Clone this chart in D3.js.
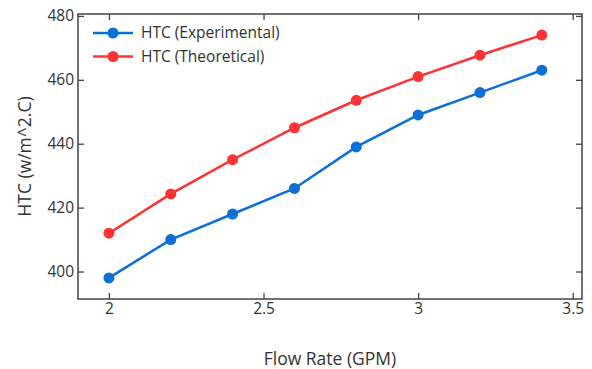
<!DOCTYPE html>
<html lang="en">
  <head>
    <meta charset="UTF-8" />
    <title>HTC vs Flow Rate</title>
    <style>
      body {
        margin: 0;
        padding: 0;
        background: #fff;
        font-family: "Open Sans", sans-serif;
      }
      text {
        fill: #333;
      }
    </style>
  </head>
  <body>
    <svg id="chart"></svg>
    <script src="https://cdnjs.cloudflare.com/ajax/libs/d3/7.8.5/d3.min.js"></script>
    <script>
      const flowRate = [2, 2.2, 2.4, 2.6, 2.8, 3, 3.2, 3.4];
      const htcExperimental = [398, 410, 418, 426, 439, 449, 456, 463];
      const htcTheoretical = [412, 424.3, 435, 445, 453.6, 461, 467.7, 474];
      const xTicks = [2, 2.5, 3, 3.5];
      const yTicks = [400, 420, 440, 460, 480];
      const seriesNames = ["HTC (Experimental)", "HTC (Theoretical)"];

      const width = 592;
      const height = 369;
      const margin = { top: 14, right: 10, bottom: 70, left: 78 };

      const svg = d3.select("#chart").attr("width", width).attr("height", height);

      const x = d3
        .scaleLinear()
        .domain([1.9, 3.53])
        .range([margin.left, width - margin.right]);

      const y = d3
        .scaleLinear()
        .domain([391.4, 480.6])
        .range([height - margin.bottom, margin.top]);

      const tickLen = 6;

      // bottom + top axes (ticks pointing inward)
      svg
        .append("g")
        .attr("transform", `translate(0,${height - margin.bottom})`)
        .call(d3.axisBottom(x).tickValues(xTicks).tickSizeInner(-tickLen).tickSizeOuter(0).tickPadding(4).tickFormat(d3.format("")))
        .call((g) => g.select(".domain").remove());
      svg
        .append("g")
        .attr("transform", `translate(0,${margin.top})`)
        .call(d3.axisTop(x).tickValues(xTicks).tickSizeInner(-tickLen).tickSizeOuter(0).tickFormat(""))
        .call((g) => g.select(".domain").remove());

      // left + right axes
      svg
        .append("g")
        .attr("transform", `translate(${margin.left},0)`)
        .call(d3.axisLeft(y).tickValues(yTicks).tickSizeInner(-tickLen).tickSizeOuter(0).tickPadding(4))
        .call((g) => g.select(".domain").remove());
      svg
        .append("g")
        .attr("transform", `translate(${width - margin.right},0)`)
        .call(d3.axisRight(y).tickValues(yTicks).tickSizeInner(-tickLen).tickSizeOuter(0).tickFormat(""))
        .call((g) => g.select(".domain").remove());

      svg.selectAll(".tick line").attr("stroke", "#444").attr("stroke-width", 1.3);
      svg.selectAll(".tick text").attr("font-size", 15.5).attr("font-family", "Open Sans, sans-serif").attr("fill", "#333");

      // frame
      svg
        .append("rect")
        .attr("x", margin.left)
        .attr("y", margin.top)
        .attr("width", width - margin.right - margin.left)
        .attr("height", height - margin.bottom - margin.top)
        .attr("fill", "none")
        .attr("stroke", "#444")
        .attr("stroke-width", 1.5);

      const series = [
        { name: seriesNames[0], values: htcExperimental, color: "#0a6fd6" },
        { name: seriesNames[1], values: htcTheoretical, color: "#ff3333" },
      ];

      const line = d3
        .line()
        .x((d, i) => x(flowRate[i]))
        .y((d) => y(d));

      series.forEach(function (s) {
        svg
          .append("path")
          .datum(s.values)
          .attr("d", line)
          .attr("fill", "none")
          .attr("stroke", s.color)
          .attr("stroke-width", 2.5);
        svg
          .append("g")
          .selectAll("circle")
          .data(s.values)
          .enter()
          .append("circle")
          .attr("cx", (d, i) => x(flowRate[i]))
          .attr("cy", (d) => y(d))
          .attr("r", 5.5)
          .attr("fill", s.color);
      });

      // legend
      const legend = svg.append("g").attr("transform", "translate(93,33)");
      series.forEach(function (s, i) {
        const row = legend.append("g").attr("transform", `translate(0,${i * 23.5})`);
        row.append("line").attr("x1", 0).attr("x2", 40).attr("stroke", s.color).attr("stroke-width", 2.5);
        row.append("circle").attr("cx", 20).attr("r", 5.5).attr("fill", s.color);
        row
          .append("text")
          .attr("x", 48)
          .attr("dy", "0.35em")
          .attr("font-size", 15.5)
          .text(s.name);
      });

      // axis titles
      svg
        .append("text")
        .attr("x", (margin.left + width - margin.right) / 2)
        .attr("y", 365)
        .attr("text-anchor", "middle")
        .attr("font-size", 17.5)
        .text("Flow Rate (GPM)");

      svg
        .append("text")
        .attr("transform", `translate(31,${(margin.top + height - margin.bottom) / 2}) rotate(-90)`)
        .attr("text-anchor", "middle")
        .attr("font-size", 17.5)
        .text("HTC (w/m^2.C)");
    </script>
  </body>
</html>
